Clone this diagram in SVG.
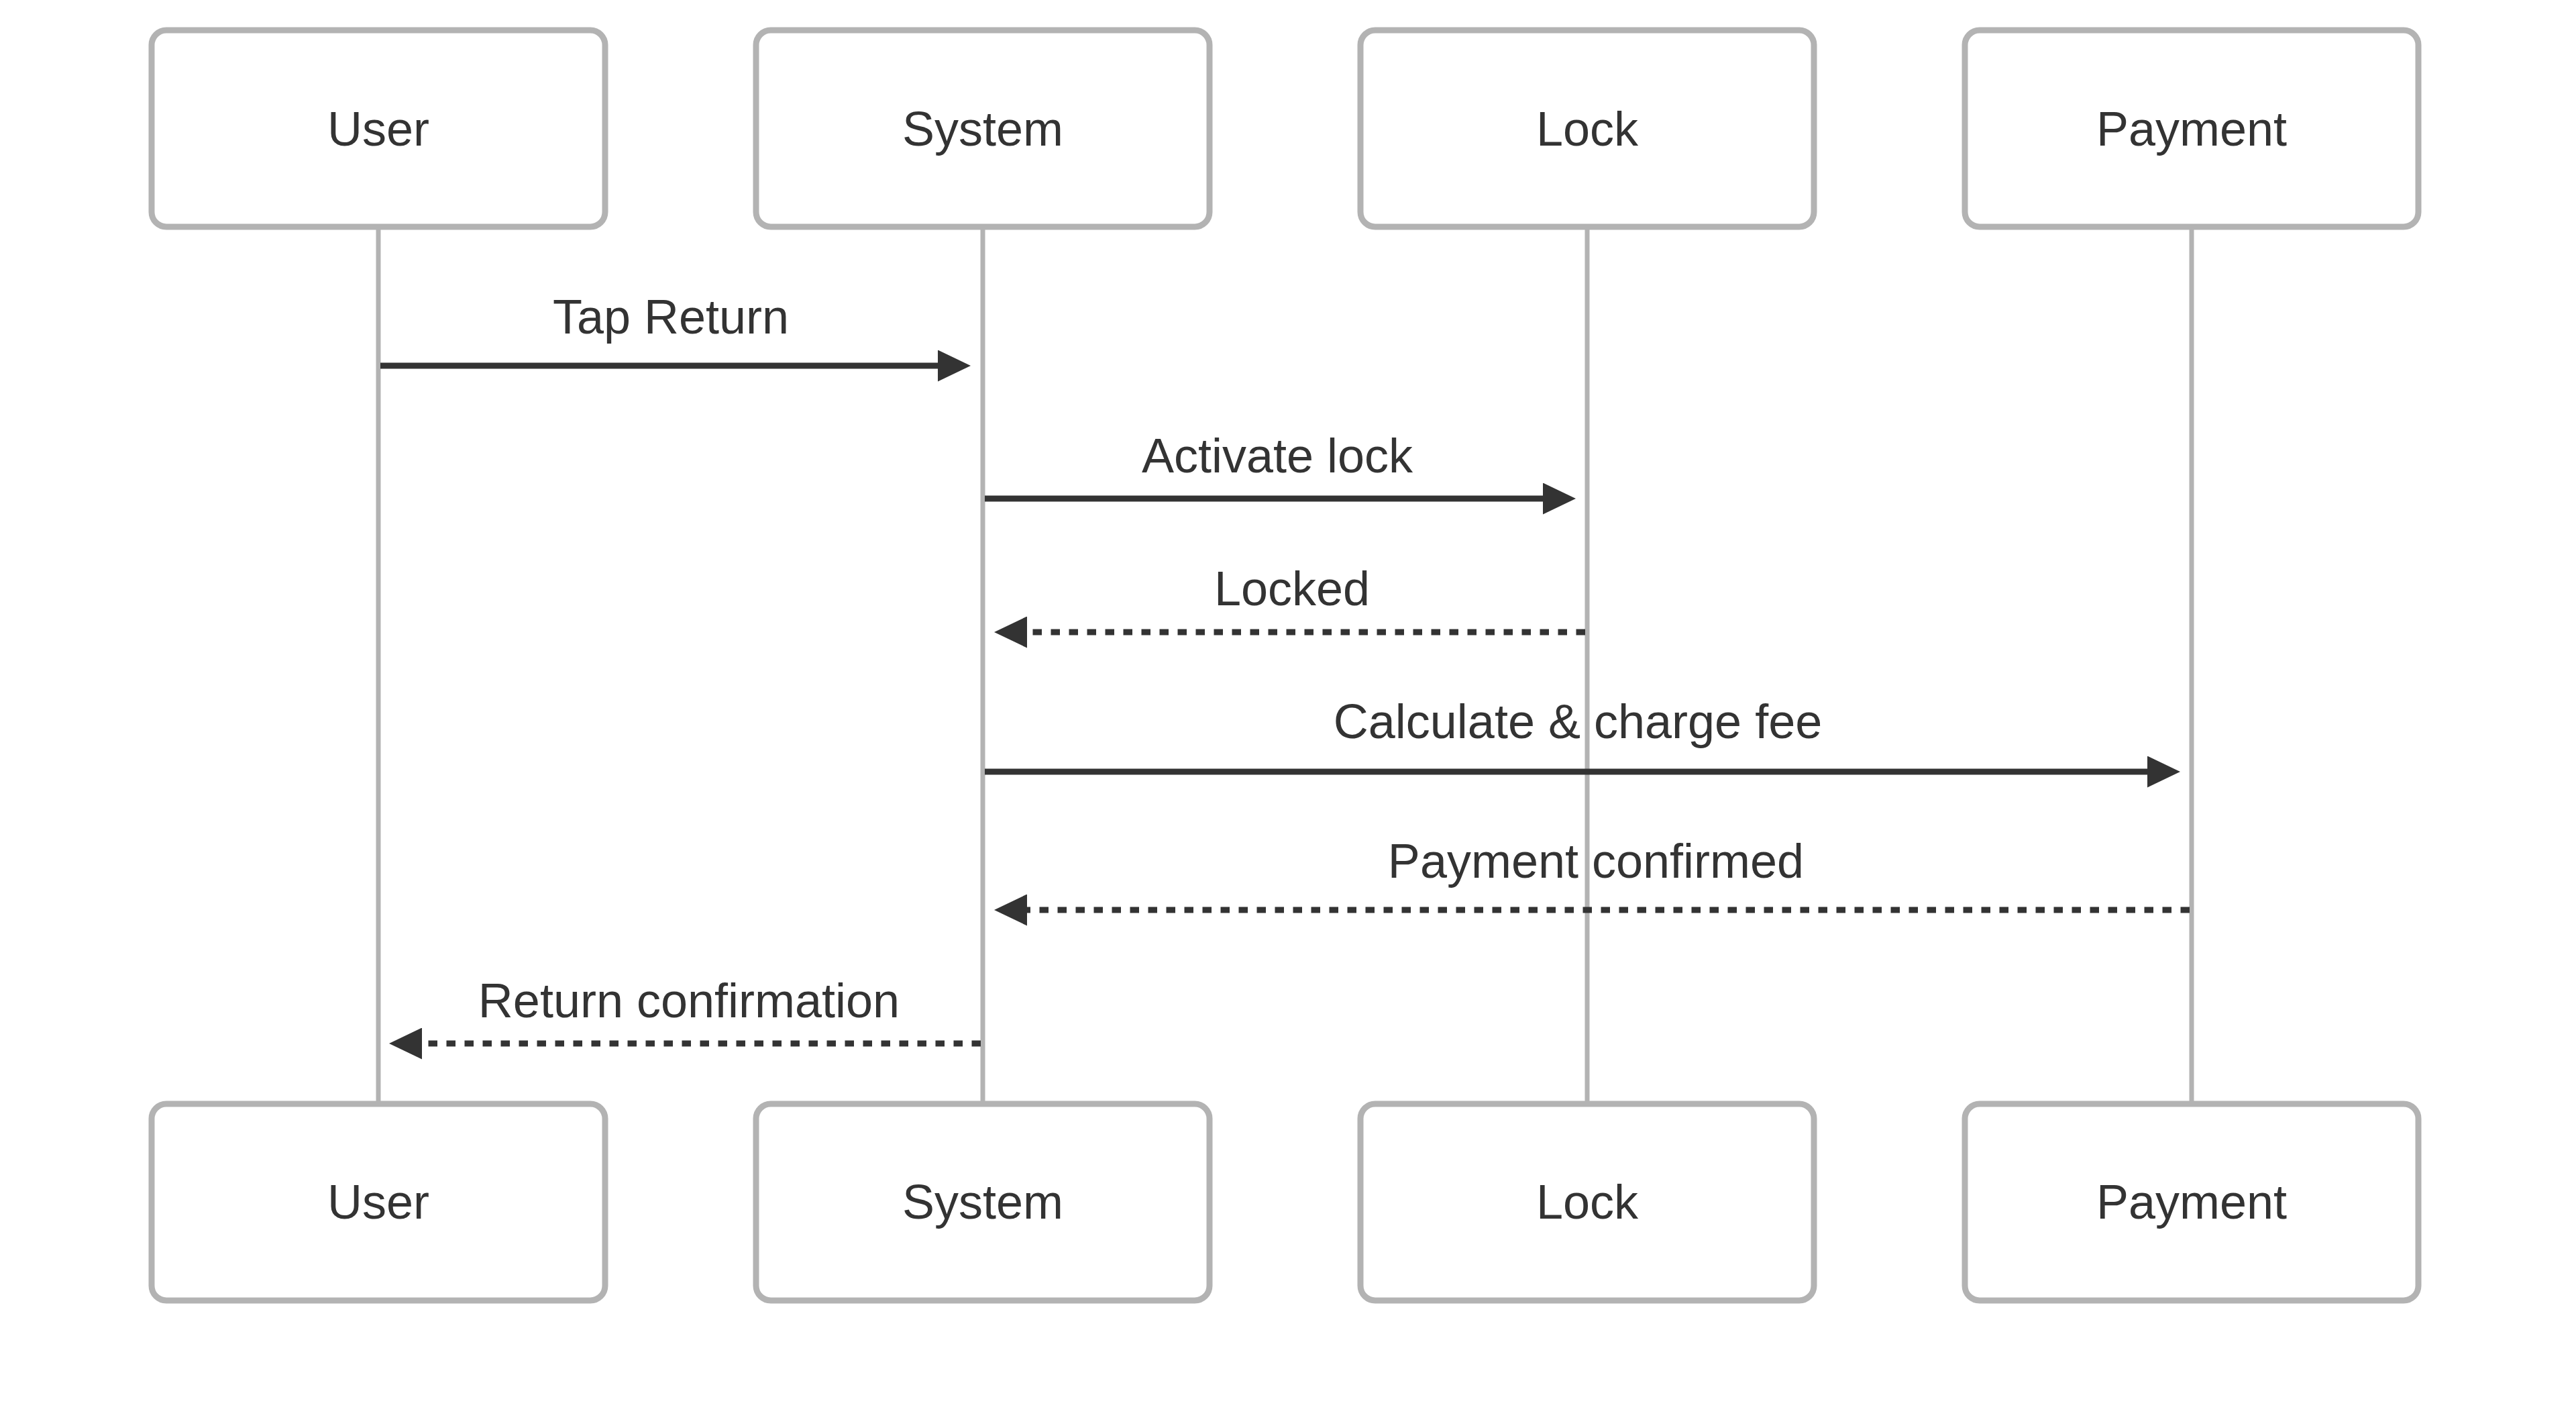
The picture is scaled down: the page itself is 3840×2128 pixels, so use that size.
<svg xmlns="http://www.w3.org/2000/svg" width="3840" height="2128" viewBox="0 0 3840 2128">
<style>
.actor rect{fill:#ffffff;stroke:#b3b3b3;stroke-width:9}
.actor text{font-family:"Liberation Sans",Arial,sans-serif;font-size:72px;fill:#333333;text-anchor:middle}
.life{stroke:#b3b3b3;stroke-width:7}
.msg{stroke:#333333;stroke-width:9;fill:none}
.dash{stroke-dasharray:13.5 13.5}
.lbl{font-family:"Liberation Sans",Arial,sans-serif;font-size:72px;fill:#333333;text-anchor:middle}
</style>
<defs>
<marker id="arr" markerUnits="userSpaceOnUse" markerWidth="49" markerHeight="47" refX="10" refY="23.5" orient="auto" viewBox="0 0 49 47">
<path d="M0,0 L49,23.5 L0,47 z" fill="#333333" stroke="none"/>
</marker>
</defs>
<rect width="3840" height="2128" fill="#ffffff"/>
<g id="lifelines">
<line class="life" x1="564" y1="338" x2="564" y2="1645"/>
<line class="life" x1="1465" y1="338" x2="1465" y2="1645"/>
<line class="life" x1="2366" y1="338" x2="2366" y2="1645"/>
<line class="life" x1="3267" y1="338" x2="3267" y2="1645"/>
</g>
<g id="user-top" class="actor"><rect x="226" y="45" width="676" height="293" rx="22"/><text x="564" y="217">User</text></g>
<g id="system-top" class="actor"><rect x="1127" y="45" width="676" height="293" rx="22"/><text x="1465" y="217">System</text></g>
<g id="lock-top" class="actor"><rect x="2028" y="45" width="676" height="293" rx="22"/><text x="2366" y="217">Lock</text></g>
<g id="payment-top" class="actor"><rect x="2929" y="45" width="676" height="293" rx="22"/><text x="3267" y="217">Payment</text></g>
<g id="user-bottom" class="actor"><rect x="226" y="1645" width="676" height="293" rx="22"/><text x="564" y="1816">User</text></g>
<g id="system-bottom" class="actor"><rect x="1127" y="1645" width="676" height="293" rx="22"/><text x="1465" y="1816">System</text></g>
<g id="lock-bottom" class="actor"><rect x="2028" y="1645" width="676" height="293" rx="22"/><text x="2366" y="1816">Lock</text></g>
<g id="payment-bottom" class="actor"><rect x="2929" y="1645" width="676" height="293" rx="22"/><text x="3267" y="1816">Payment</text></g>
<g id="connectors">
<line class="msg" x1="567" y1="545" x2="1408" y2="545" marker-end="url(#arr)"/>
<text class="lbl" x="1000" y="497">Tap Return</text>
<line class="msg" x1="1468" y1="743" x2="2310" y2="743" marker-end="url(#arr)"/>
<text class="lbl" x="1904" y="704">Activate lock</text>
<line class="msg dash" x1="2363" y1="942" x2="1521" y2="942" marker-end="url(#arr)"/>
<text class="lbl" x="1926" y="902">Locked</text>
<line class="msg" x1="1468" y1="1150" x2="3211" y2="1150" marker-end="url(#arr)"/>
<text class="lbl" x="2352" y="1100">Calculate &amp; charge fee</text>
<line class="msg dash" x1="3264" y1="1356" x2="1521" y2="1356" marker-end="url(#arr)"/>
<text class="lbl" x="2379" y="1308">Payment confirmed</text>
<line class="msg dash" x1="1462" y1="1555" x2="619" y2="1555" marker-end="url(#arr)"/>
<text class="lbl" x="1027" y="1516">Return confirmation</text>
</g>
</svg>
